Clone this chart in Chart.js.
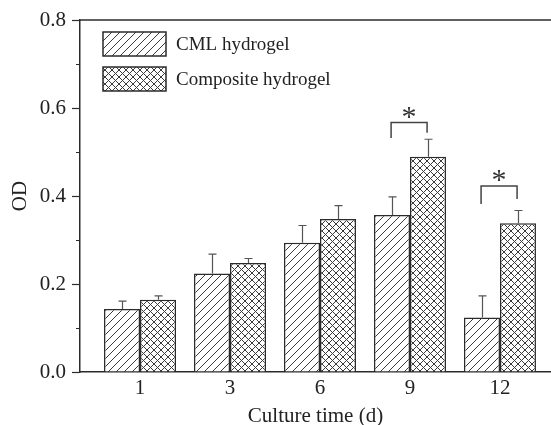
<!DOCTYPE html>
<html>
<head>
<meta charset="utf-8">
<script src="https://cdn.jsdelivr.net/npm/chart.js@4/dist/chart.umd.min.js"></script>
<style>
  html, body { margin: 0; padding: 0; background: #fff; }
  #grafico { display: block; }
</style>
</head>
<body>
<canvas id="grafico" width="551" height="425"></canvas>
<script>
// dados
const categories = ['1', '3', '6', '9', '12'];
const cmlValues = [0.143, 0.224, 0.294, 0.357, 0.124];
const cmlErrors = [0.018, 0.044, 0.039, 0.041, 0.049];
const compositeValues = [0.164, 0.248, 0.348, 0.489, 0.338];
const compositeErrors = [0.009, 0.010, 0.030, 0.040, 0.029];
const yTicks = [0, 0.2, 0.4, 0.6, 0.8];
const yMinorTicks = [0.1, 0.3, 0.5, 0.7];
// brackets de significancia: categoria e alturas
const signifAt = [3, 4];
const signifTop = [0.567, 0.423];
const signifLeftEnd = [0.532, 0.382];
const signifRightEnd = [0.544, 0.393];

const serif = '"Liberation Serif", "DejaVu Serif", serif';
const ink = '#2b2b2b';

function makePattern(cross, size) {
  const c = document.createElement('canvas');
  c.width = size; c.height = size;
  const g = c.getContext('2d');
  g.fillStyle = '#fff';
  g.fillRect(0, 0, size, size);
  g.strokeStyle = '#3a3a3a';
  g.lineWidth = 1;
  g.beginPath();
  g.moveTo(-1, size + 1); g.lineTo(size + 1, -1);
  g.moveTo(-2, 2); g.lineTo(2, -2);
  g.moveTo(size - 2, size + 2); g.lineTo(size + 2, size - 2);
  if (cross) {
    g.moveTo(-1, -1); g.lineTo(size + 1, size + 1);
    g.moveTo(size - 2, -2); g.lineTo(size + 2, 2);
    g.moveTo(-2, size - 2); g.lineTo(2, size + 2);
  }
  g.stroke();
  const ctx = document.getElementById('grafico').getContext('2d');
  return ctx.createPattern(c, 'repeat');
}

const hatch = makePattern(false, 8);
const crossHatch = makePattern(true, 7);

const extras = {
  id: 'extras',
  afterDatasetsDraw(chart) {
    const ctx = chart.ctx;
    const x = chart.scales.x, y = chart.scales.y;
    const area = chart.chartArea;
    ctx.save();

    // linha de topo
    ctx.strokeStyle = ink;
    ctx.lineWidth = 1.5;
    ctx.beginPath();
    ctx.moveTo(area.left, area.top);
    ctx.lineTo(area.right, area.top);
    ctx.stroke();

    // ticks menores
    ctx.lineWidth = 1;
    ctx.beginPath();
    yMinorTicks.forEach(v => {
      const py = Math.round(y.getPixelForValue(v)) + 0.5;
      ctx.moveTo(area.left - 4, py);
      ctx.lineTo(area.left, py);
    });
    ctx.stroke();

    // barras de erro
    const errs = [cmlErrors, compositeErrors];
    const vals = [cmlValues, compositeValues];
    ctx.strokeStyle = '#555';
    ctx.lineWidth = 1.2;
    [0, 1].forEach(d => {
      chart.getDatasetMeta(d).data.forEach((bar, i) => {
        const top = y.getPixelForValue(vals[d][i] + errs[d][i]);
        const bx = Math.round(bar.x) + 0.5;
        ctx.beginPath();
        ctx.moveTo(bx, bar.y);
        ctx.lineTo(bx, top);
        ctx.moveTo(bx - 4, top);
        ctx.lineTo(bx + 4, top);
        ctx.stroke();
      });
    });

    // brackets e asteriscos
    ctx.strokeStyle = '#444';
    ctx.lineWidth = 1.5;
    ctx.fillStyle = '#333';
    ctx.font = '30px ' + serif;
    ctx.textAlign = 'center';
    ctx.textBaseline = 'alphabetic';
    signifAt.forEach((c, k) => {
      const xl = x.getPixelForValue(c - 0.21);
      const xr = x.getPixelForValue(c + 0.19);
      const yt = y.getPixelForValue(signifTop[k]);
      ctx.beginPath();
      ctx.moveTo(xl, y.getPixelForValue(signifLeftEnd[k]));
      ctx.lineTo(xl, yt);
      ctx.lineTo(xr, yt);
      ctx.lineTo(xr, y.getPixelForValue(signifRightEnd[k]));
      ctx.stroke();
      ctx.fillText('*', (xl + xr) / 2, yt + 3);
    });

    // legenda
    const fills = [hatch, crossHatch];
    ctx.font = '19px ' + serif;
    ctx.textAlign = 'left';
    ctx.textBaseline = 'middle';
    chart.data.datasets.forEach((ds, i) => {
      const lx = area.left + 23;
      const ly = area.top + 12 + i * 35;
      ctx.fillStyle = fills[i];
      ctx.fillRect(lx, ly, 63, 24);
      ctx.strokeStyle = ink;
      ctx.lineWidth = 1.5;
      ctx.strokeRect(lx, ly, 63, 24);
      ctx.fillStyle = '#222';
      ctx.fillText(ds.label, lx + 73, ly + 13);
    });
    ctx.restore();
  }
};

new Chart(document.getElementById('grafico'), {
  type: 'bar',
  data: {
    datasets: [{
      label: 'CML hydrogel',
      data: cmlValues.map((v, i) => ({ x: i, y: v })),
      backgroundColor: hatch,
      borderColor: ink,
      borderWidth: 1.5,
      borderSkipped: 'bottom'
    },
    {
      label: 'Composite hydrogel',
      data: compositeValues.map((v, i) => ({ x: i, y: v })),
      backgroundColor: crossHatch,
      borderColor: ink,
      borderWidth: 1.5,
      borderSkipped: 'bottom'
    }]
  },
  options: {
    responsive: false,
    animation: false,
    devicePixelRatio: 1,
    categoryPercentage: 0.8,
    barPercentage: 1,
    layout: { padding: { top: 20, right: 0, left: 0, bottom: 0 } },
    plugins: {
      legend: { display: false },
      tooltip: { enabled: false }
    },
    scales: {
      x: {
        type: 'linear',
        offset: false,
        min: -0.667,
        max: 4.567,
        afterFit: s => { s.height = 53; },
        afterBuildTicks: s => { s.ticks = categories.map((c, i) => ({ value: i })); },
        grid: { display: false, drawTicks: false, offset: false },
        border: { display: true, color: ink, width: 1.5 },
        ticks: {
          color: '#222',
          font: { family: serif, size: 21 },
          padding: 4,
          maxRotation: 0,
          autoSkip: false,
          callback: v => categories[v]
        },
        title: {
          display: true,
          text: 'Culture time (d)',
          color: '#222',
          font: { family: serif, size: 21, lineHeight: 0.8 },
          padding: { top: 0, bottom: 0 }
        }
      },
      y: {
        min: 0,
        max: 0.8,
        afterFit: s => { s.width = 80; },
        afterBuildTicks: s => { s.ticks = yTicks.map(v => ({ value: v })); },
        grid: { drawOnChartArea: false, tickLength: 8, tickColor: ink, tickWidth: 1.2 },
        border: { display: true, color: ink, width: 1.5 },
        ticks: {
          color: '#222',
          font: { family: serif, size: 21 },
          padding: 6,
          callback: v => v.toFixed(1)
        },
        title: {
          display: true,
          text: 'OD',
          color: '#222',
          font: { family: serif, size: 21 },
          padding: { top: 8, bottom: 0 }
        }
      }
    }
  },
  plugins: [extras]
});
</script>
</body>
</html>
